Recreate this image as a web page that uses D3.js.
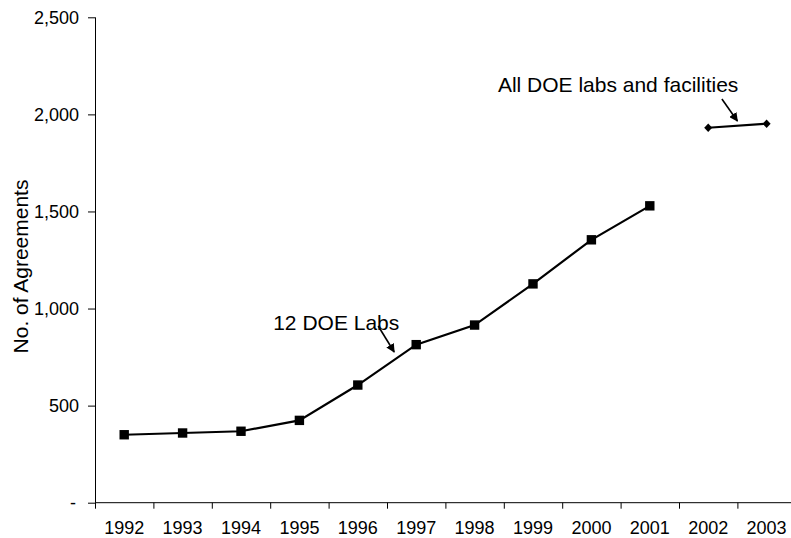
<!DOCTYPE html>
<html>
<head>
<meta charset="utf-8">
<script src="https://cdn.jsdelivr.net/npm/d3@7"></script>
<style>
  html, body { margin: 0; padding: 0; background: #fff; }
  svg { display: block; font-family: "Liberation Sans", Arial, sans-serif; }
</style>
</head>
<body>
<svg id="chart"></svg>
<script>
// Data
const years = ["1992", "1993", "1994", "1995", "1996", "1997", "1998", "1999", "2000", "2001", "2002", "2003"]
const labYears = ["1992", "1993", "1994", "1995", "1996", "1997", "1998", "1999", "2000", "2001"]
const labValues = [350, 359, 368, 424, 606, 814, 915, 1127, 1354, 1529]
const allYears = ["2002", "2003"]
const allValues = [1931, 1952]
const yTicks = [0, 500, 1000, 1500, 2000, 2500]
const yTitle = "No. of Agreements"
const labLabel = "12 DOE Labs"
const allLabel = "All DOE labs and facilities"

const width = 791
const height = 538

const svg = d3.select("#chart")
  .attr("width", width)
  .attr("height", height)

// Scales
const x = d3.scaleBand()
  .domain(years)
  .range([95, 95 + 12 * 58.4])
  .padding(0)

const y = d3.scaleLinear()
  .domain([0, 2500])
  .range([502.7, 17.3])

const cx = d => x(d) + x.bandwidth() / 2

// Arrowhead
svg.append("defs").append("marker")
  .attr("id", "arrow")
  .attr("viewBox", "0 0 10 10")
  .attr("refX", 9)
  .attr("refY", 5)
  .attr("markerWidth", 5.5)
  .attr("markerHeight", 5.5)
  .attr("orient", "auto")
  .append("path")
  .attr("d", "M0,0L10,5L0,10Z")
  .attr("fill", "#000")

// Y axis
svg.append("g")
  .attr("transform", "translate(95,0)")
  .call(d3.axisLeft(y)
    .tickValues(yTicks)
    .tickSize(7)
    .tickPadding(9)
    .tickFormat(d => d === 0 ? "-" : d3.format(",")(d)))
  .call(g => g.select(".domain").attr("d", `M0.5,${y(2500)}V${y(0)}`))
  .call(g => g.selectAll("line, path").attr("stroke", "#000"))
  .call(g => g.selectAll(".tick text")
    .attr("font-size", "18px")
    .attr("fill", "#000")
    .attr("dx", d => d === 0 ? -3 : 0))

// X axis
const xTickPos = d3.range(years.length + 1).map(i => 95 + i * x.bandwidth())
const xAxis = svg.append("g")
  .attr("transform", `translate(0,${y(0)})`)
xAxis.append("line")
  .attr("x1", 95).attr("x2", width)
  .attr("stroke", "#000")
xAxis.selectAll("line.tk")
  .data(xTickPos)
  .join("line")
  .attr("class", "tk")
  .attr("x1", d => d + 0.5).attr("x2", d => d + 0.5)
  .attr("y1", 0).attr("y2", 6)
  .attr("stroke", "#000")
xAxis.selectAll("text")
  .data(years)
  .join("text")
  .attr("x", d => cx(d))
  .attr("y", 31.5)
  .attr("text-anchor", "middle")
  .attr("font-size", "18px")
  .attr("fill", "#000")
  .text(d => d)

// Y axis title
svg.append("text")
  .attr("transform", `translate(28,${(y(0) + y(2500)) / 2 + 6.5}) rotate(-90)`)
  .attr("text-anchor", "middle")
  .attr("font-size", "21px")
  .attr("fill", "#000")
  .text(yTitle)

// 12 DOE Labs series
const labData = labYears.map((d, i) => ({ year: d, value: labValues[i] }))
const line = d3.line().x(d => cx(d.year)).y(d => y(d.value))

svg.append("path")
  .datum(labData)
  .attr("d", line)
  .attr("fill", "none")
  .attr("stroke", "#000")
  .attr("stroke-width", 2.2)

svg.append("g")
  .selectAll("rect")
  .data(labData)
  .join("rect")
  .attr("x", d => cx(d.year) - 4.7)
  .attr("y", d => y(d.value) - 4.7)
  .attr("width", 9.4)
  .attr("height", 9.4)
  .attr("fill", "#000")

// All DOE labs series
const allData = allYears.map((d, i) => ({ year: d, value: allValues[i] }))

svg.append("path")
  .datum(allData)
  .attr("d", line)
  .attr("fill", "none")
  .attr("stroke", "#000")
  .attr("stroke-width", 2.2)

svg.append("g")
  .selectAll("path")
  .data(allData)
  .join("path")
  .attr("d", "M0,-4.3L4,0L0,4.3L-4,0Z")
  .attr("transform", d => `translate(${cx(d.year)},${y(d.value)})`)
  .attr("fill", "#000")

// Annotations
const tip1 = [cx("1997") - 22, y(776)]
svg.append("line")
  .attr("x1", tip1[0] - 16).attr("y1", tip1[1] - 26)
  .attr("x2", tip1[0]).attr("y2", tip1[1])
  .attr("stroke", "#000")
  .attr("stroke-width", 1.6)
  .attr("marker-end", "url(#arrow)")
svg.append("text")
  .attr("x", tip1[0] - 121)
  .attr("y", tip1[1] - 22.5)
  .attr("font-size", "21px")
  .attr("fill", "#000")
  .text(labLabel)

const tip2 = [(cx("2002") + cx("2003")) / 2, y(1966)]
svg.append("line")
  .attr("x1", tip2[0] - 15.5).attr("y1", tip2[1] - 22)
  .attr("x2", tip2[0]).attr("y2", tip2[1])
  .attr("stroke", "#000")
  .attr("stroke-width", 1.6)
  .attr("marker-end", "url(#arrow)")
svg.append("text")
  .attr("x", tip2[0] - 239.5)
  .attr("y", tip2[1] - 28.7)
  .attr("font-size", "21px")
  .attr("fill", "#000")
  .text(allLabel)
</script>
</body>
</html>
